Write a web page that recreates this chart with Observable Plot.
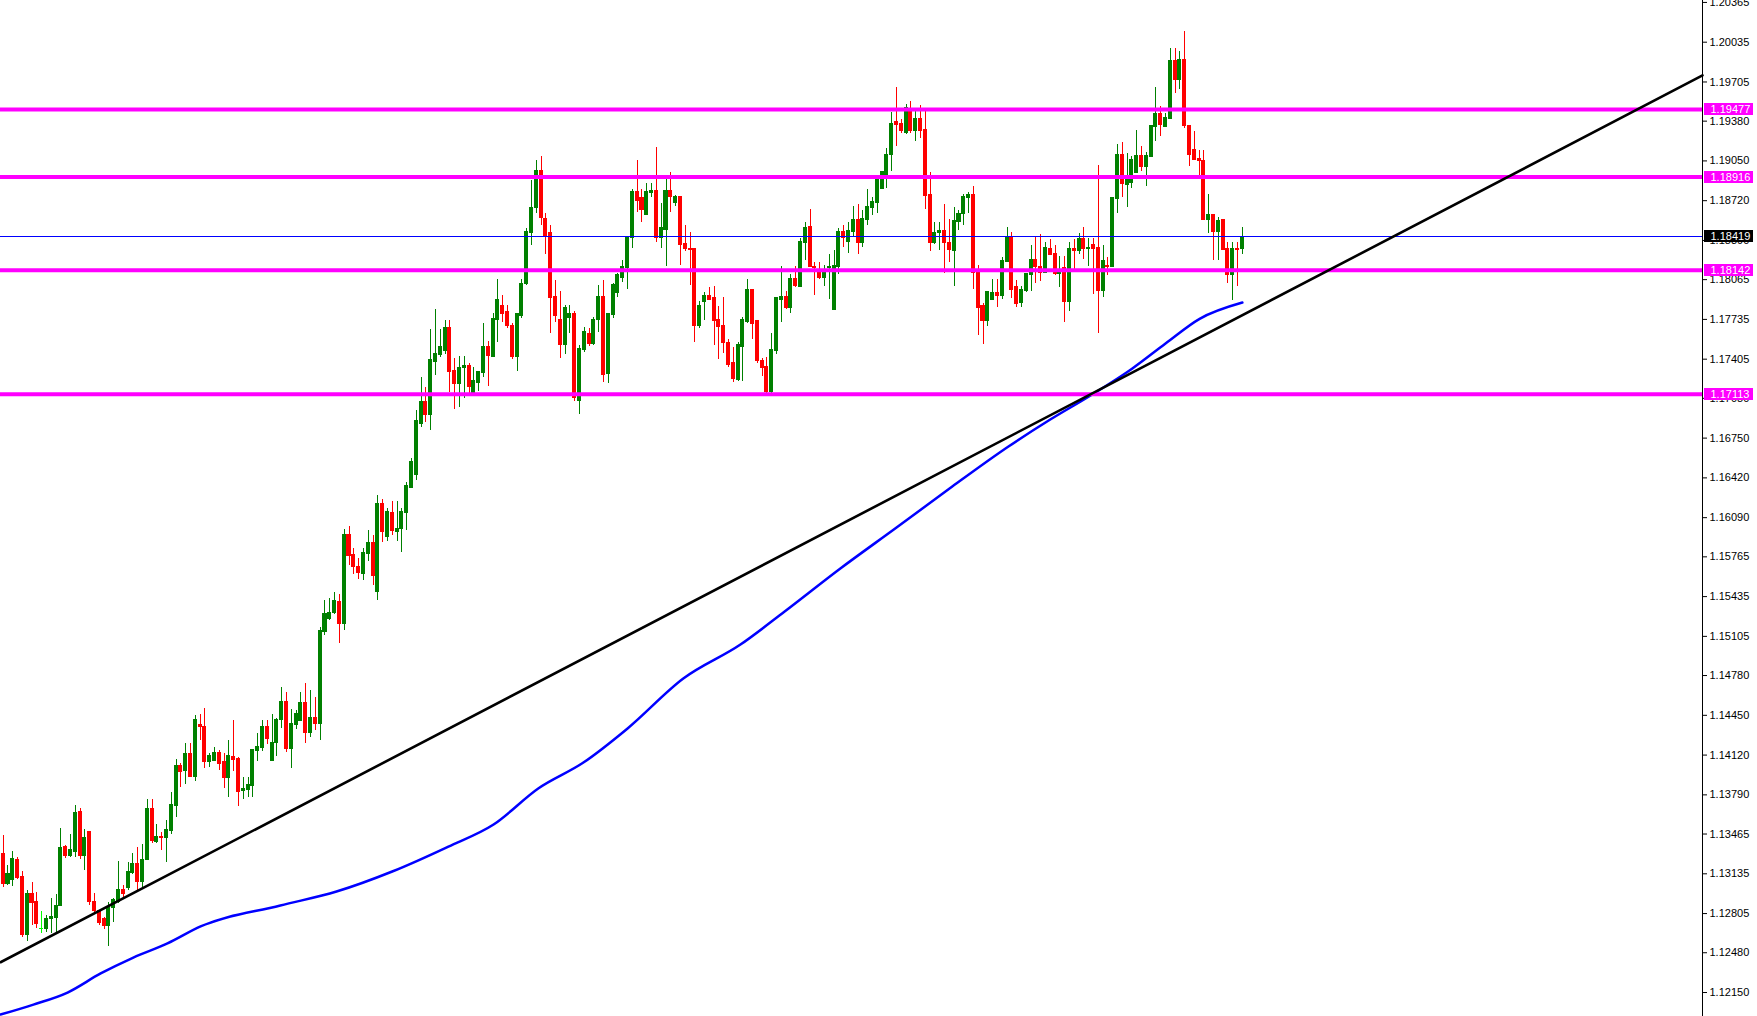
<!DOCTYPE html>
<html><head><meta charset="utf-8">
<script src="https://cdn.jsdelivr.net/npm/d3@7"></script>
<script src="https://cdn.jsdelivr.net/npm/@observablehq/plot@0.6"></script>
<style>html,body{margin:0;padding:0;background:#fff;overflow:hidden}</style>
</head><body><div id="chart"></div>
<script>
const OPEN=[1.1330,1.1305,1.1308,1.1325,1.1311,1.1263,1.1297,1.1290,1.1268,1.1268,
1.1276,1.1277,1.1287,1.1336,1.1328,1.1332,1.1365,1.1328,1.1348,1.1290,
1.1283,1.1276,1.1270,1.1285,1.1290,1.1300,1.1302,1.1314,1.1322,1.1307,
1.1325,1.1367,1.1340,1.1344,1.1343,1.1349,1.1370,1.1403,1.1399,1.1413,
1.1394,1.1437,1.1435,1.1406,1.1407,1.1414,1.1406,1.1393,1.1410,1.1409,
1.1382,1.1383,1.1386,1.1415,1.1418,1.1435,1.1407,1.1422,1.1441,1.1456,
1.1417,1.1437,1.1440,1.1455,1.1430,1.1443,1.1438,1.1514,1.1525,1.1530,
1.1539,1.1521,1.1595,1.1578,1.1568,1.1562,1.1579,1.1588,1.1547,1.1620,
1.1593,1.1613,1.1597,1.1600,1.1613,1.1634,1.1644,1.1687,1.1705,1.1694,
1.1738,1.1744,1.1747,1.1766,1.1731,1.1720,1.1733,1.1735,1.1712,1.1721,
1.1729,1.1751,1.1742,1.1773,1.1785,1.1780,1.1768,1.1742,1.1776,1.1803,
1.1845,1.1866,1.1897,1.1857,1.1845,1.1792,1.1773,1.1752,1.1775,1.1778,
1.1706,1.1748,1.1761,1.1753,1.1773,1.1792,1.1728,1.1777,1.1795,1.1808,
1.1816,1.1841,1.1879,1.1874,1.1860,1.1878,1.1880,1.1841,1.1848,1.1880,
1.1870,1.1875,1.1836,1.1832,1.1832,1.1768,1.1788,1.1793,1.1791,1.1773,
1.1768,1.1754,1.1737,1.1723,1.1751,1.1771,1.1798,1.1772,1.1739,1.1734,
1.1713,1.1747,1.1790,1.1792,1.1783,1.1807,1.1800,1.1837,1.1850,1.1817,
1.1812,1.1808,1.1816,1.1781,1.1817,1.1846,1.1838,1.1846,1.1856,1.1837,
1.1856,1.1866,1.1870,1.1882,1.1892,1.1910,1.1937,1.1936,1.1928,1.1947,
1.1930,1.1940,1.1931,1.1877,1.1837,1.1845,1.1847,1.1837,1.1830,1.1854,
1.1861,1.1874,1.1877,1.1812,1.1785,1.1772,1.1790,1.1795,1.1793,1.1821,
1.1842,1.1800,1.1787,1.1797,1.1810,1.1823,1.1817,1.1812,1.1832,1.1828,
1.1811,1.1816,1.1788,1.1832,1.1830,1.1840,1.1832,1.1835,1.1833,1.1797,
1.1818,1.1817,1.1873,1.1910,1.1885,1.1887,1.1895,1.1909,1.1900,1.1908,
1.1933,1.1944,1.1933,1.1940,1.1988,1.1972,1.1989,1.1934,1.1914,1.1907,
1.1905,1.1856,1.1860,1.1846,1.1856,1.1832,1.1810,1.1832,1.1832];
const HIGH=[1.1345,1.1320,1.1332,1.1327,1.1315,1.1300,1.1306,1.1298,1.1282,1.1279,
1.1293,1.1296,1.1351,1.1337,1.1346,1.1370,1.1368,1.1350,1.1348,1.1297,
1.1283,1.1277,1.1290,1.1293,1.1324,1.1304,1.1323,1.1330,1.1335,1.1338,
1.1375,1.1375,1.1354,1.1348,1.1358,1.1381,1.1408,1.1405,1.1422,1.1422,
1.1445,1.1446,1.1451,1.1413,1.1418,1.1416,1.1413,1.1424,1.1441,1.1410,
1.1393,1.1393,1.1417,1.1430,1.1441,1.1441,1.1446,1.1442,1.1468,1.1464,
1.1450,1.1449,1.1464,1.1471,1.1466,1.1460,1.1518,1.1540,1.1542,1.1547,
1.1545,1.1599,1.1602,1.1583,1.1575,1.1583,1.1598,1.1594,1.1627,1.1624,
1.1617,1.1622,1.1622,1.1617,1.1638,1.1658,1.1698,1.1725,1.1717,1.1765,
1.1782,1.1765,1.1773,1.1773,1.1741,1.1743,1.1743,1.1737,1.1734,1.1730,
1.1770,1.1755,1.1778,1.1807,1.1793,1.1785,1.1770,1.1778,1.1807,1.1849,
1.1889,1.1905,1.1909,1.1861,1.1851,1.1806,1.1797,1.1785,1.1785,1.1780,
1.1752,1.1767,1.1766,1.1775,1.1802,1.1806,1.1778,1.1803,1.1812,1.1822,
1.1841,1.1881,1.1905,1.1881,1.1886,1.1886,1.1916,1.1870,1.1891,1.1895,
1.1876,1.1875,1.1851,1.1846,1.1832,1.1788,1.1796,1.1800,1.1801,1.1784,
1.1792,1.1757,1.1750,1.1754,1.1775,1.1807,1.1798,1.1772,1.1741,1.1742,
1.1762,1.1791,1.1817,1.1797,1.1811,1.1817,1.1841,1.1854,1.1865,1.1821,
1.1821,1.1818,1.1827,1.1831,1.1849,1.1851,1.1854,1.1867,1.1869,1.1864,
1.1881,1.1875,1.1890,1.1896,1.1915,1.1945,1.1966,1.1939,1.1952,1.1954,
1.1947,1.1951,1.1947,1.1895,1.1854,1.1854,1.1869,1.1856,1.1866,1.1864,
1.1877,1.1879,1.1884,1.1818,1.1787,1.1796,1.1807,1.1807,1.1825,1.1850,
1.1846,1.1806,1.1801,1.1812,1.1835,1.1842,1.1844,1.1837,1.1840,1.1835,
1.1826,1.1826,1.1837,1.1840,1.1845,1.1850,1.1841,1.1841,1.1901,1.1835,
1.1825,1.1875,1.1919,1.1920,1.1911,1.1909,1.1930,1.1917,1.1912,1.1934,
1.1966,1.1950,1.1944,1.1998,1.1998,1.1996,1.2012,1.1934,1.1929,1.1914,
1.1914,1.1877,1.1860,1.1858,1.1856,1.1837,1.1837,1.1837,1.1850];
const LOW=[1.1302,1.1304,1.1303,1.1309,1.1261,1.1257,1.1271,1.1268,1.1264,1.1265,
1.1264,1.1265,1.1286,1.1326,1.1327,1.1327,1.1325,1.1316,1.1287,1.1281,
1.1271,1.1267,1.1253,1.1273,1.1289,1.1294,1.1300,1.1313,1.1300,1.1302,
1.1325,1.1339,1.1339,1.1333,1.1323,1.1346,1.1360,1.1385,1.1388,1.1393,
1.1390,1.1424,1.1401,1.1402,1.1407,1.1399,1.1384,1.1377,1.1398,1.1369,
1.1375,1.1377,1.1377,1.1407,1.1415,1.1421,1.1407,1.1411,1.1434,1.1414,
1.1401,1.1433,1.1440,1.1422,1.1427,1.1432,1.1424,1.1511,1.1524,1.1529,
1.1505,1.1515,1.1569,1.1562,1.1558,1.1557,1.1573,1.1553,1.1540,1.1588,
1.1589,1.1594,1.1589,1.1580,1.1598,1.1634,1.1640,1.1684,1.1688,1.1681,
1.1727,1.1742,1.1744,1.1713,1.1699,1.1700,1.1708,1.1712,1.1712,1.1714,
1.1725,1.1718,1.1742,1.1754,1.1771,1.1766,1.1740,1.1730,1.1774,1.1802,
1.1835,1.1861,1.1851,1.1827,1.1762,1.1771,1.1741,1.1744,1.1762,1.1705,
1.1695,1.1746,1.1751,1.1752,1.1763,1.1721,1.1720,1.1774,1.1792,1.1804,
1.1798,1.1832,1.1862,1.1854,1.1860,1.1875,1.1837,1.1832,1.1817,1.1862,
1.1867,1.1818,1.1830,1.1802,1.1754,1.1766,1.1773,1.1789,1.1752,1.1740,
1.1745,1.1734,1.1721,1.1722,1.1722,1.1770,1.1757,1.1737,1.1726,1.1712,
1.1712,1.1744,1.1771,1.1782,1.1778,1.1800,1.1800,1.1822,1.1817,1.1793,
1.1807,1.1801,1.1790,1.1781,1.1811,1.1833,1.1828,1.1842,1.1827,1.1833,
1.1851,1.1860,1.1861,1.1882,1.1882,1.1896,1.1917,1.1928,1.1927,1.1928,
1.1921,1.1924,1.1865,1.1830,1.1836,1.1831,1.1812,1.1821,1.1801,1.1847,
1.1851,1.1861,1.1798,1.1760,1.1753,1.1768,1.1790,1.1783,1.1790,1.1821,
1.1791,1.1783,1.1783,1.1796,1.1797,1.1803,1.1805,1.1812,1.1827,1.1810,
1.1800,1.1771,1.1780,1.1815,1.1827,1.1823,1.1817,1.1794,1.1762,1.1792,
1.1810,1.1817,1.1861,1.1875,1.1866,1.1882,1.1895,1.1896,1.1884,1.1908,
1.1921,1.1925,1.1933,1.1940,1.1961,1.1964,1.1932,1.1900,1.1906,1.1892,
1.1856,1.1845,1.1822,1.1822,1.1831,1.1803,1.1789,1.1801,1.1827];
const CLOSE=[1.1305,1.1313,1.1326,1.1310,1.1263,1.1297,1.1289,1.1272,1.1268,1.1276,
1.1278,1.1287,1.1335,1.1328,1.1333,1.1364,1.1328,1.1343,1.1290,1.1283,
1.1273,1.1270,1.1286,1.1292,1.1300,1.1297,1.1315,1.1322,1.1307,1.1325,
1.1367,1.1341,1.1344,1.1343,1.1350,1.1371,1.1403,1.1398,1.1413,1.1394,
1.1441,1.1435,1.1406,1.1411,1.1414,1.1405,1.1393,1.1411,1.1408,1.1381,
1.1384,1.1387,1.1416,1.1419,1.1435,1.1425,1.1422,1.1441,1.1456,1.1417,
1.1438,1.1446,1.1455,1.1430,1.1443,1.1438,1.1515,1.1529,1.1530,1.1540,
1.1521,1.1595,1.1577,1.1568,1.1563,1.1580,1.1588,1.1561,1.1620,1.1597,
1.1614,1.1598,1.1600,1.1614,1.1635,1.1655,1.1689,1.1705,1.1694,1.1740,
1.1745,1.1751,1.1766,1.1730,1.1720,1.1733,1.1735,1.1717,1.1722,1.1730,
1.1751,1.1743,1.1774,1.1790,1.1778,1.1768,1.1742,1.1778,1.1803,1.1846,
1.1866,1.1897,1.1858,1.1842,1.1791,1.1776,1.1752,1.1783,1.1778,1.1708,
1.1749,1.1763,1.1753,1.1773,1.1792,1.1727,1.1778,1.1802,1.1810,1.1817,
1.1841,1.1879,1.1872,1.1864,1.1879,1.1880,1.1841,1.1849,1.1880,1.1875,
1.1875,1.1835,1.1832,1.1831,1.1768,1.1785,1.1793,1.1790,1.1772,1.1767,
1.1754,1.1736,1.1724,1.1752,1.1773,1.1798,1.1770,1.1739,1.1733,1.1713,
1.1748,1.1791,1.1792,1.1783,1.1807,1.1801,1.1838,1.1849,1.1817,1.1816,
1.1808,1.1812,1.1817,1.1818,1.1846,1.1841,1.1847,1.1856,1.1837,1.1857,
1.1867,1.1871,1.1890,1.1896,1.1910,1.1936,1.1935,1.1930,1.1949,1.1930,
1.1940,1.1930,1.1876,1.1837,1.1845,1.1847,1.1837,1.1831,1.1855,1.1861,
1.1875,1.1877,1.1812,1.1783,1.1772,1.1796,1.1795,1.1793,1.1822,1.1842,
1.1798,1.1786,1.1798,1.1811,1.1823,1.1817,1.1812,1.1833,1.1827,1.1811,
1.1812,1.1788,1.1832,1.1830,1.1840,1.1832,1.1833,1.1832,1.1797,1.1822,
1.1817,1.1874,1.1910,1.1886,1.1889,1.1906,1.1909,1.1900,1.1909,1.1934,
1.1944,1.1935,1.1941,1.1988,1.1972,1.1989,1.1934,1.1910,1.1906,1.1905,
1.1856,1.1860,1.1846,1.1855,1.1831,1.1810,1.1832,1.1831,1.1842];

// moving average (blue curve), read at bar positions
const MA_BAR=[-0.56,6.3,13.4,20.3,27.1,34.2,41.1,57.7,69.4,81.0,92.7,102.1,111.4,120.8,130.0,141.6,153.5,162.7,174.3,186.0,197.6,209.3,218.0,226.4,235.1,242.0,249.1,258];
const MA_VAL=[1.11967,1.12050,1.12150,1.12308,1.12440,1.12557,1.12698,1.12872,1.12988,1.13154,1.13361,1.13544,1.13843,1.14058,1.14341,1.14755,1.15037,1.15311,1.15668,1.16008,1.16348,1.16680,1.16904,1.17104,1.17328,1.17535,1.17740,1.17875];

// trend line anchors (bar, price)
const TREND_BAR=[-0.56,353.8];
const TREND_VAL=[1.12401,1.19759];

const LEVELS=[1.19477,1.18916,1.18142,1.17113];
const CURRENT=1.18419;
const TICKS=[1.20365,1.20035,1.19705,1.19380,1.19050,1.18720,1.18390,1.18065,1.17735,1.17405,1.17080,1.16750,1.16420,1.16090,1.15765,1.15435,1.15105,1.14780,1.14450,1.14120,1.13790,1.13465,1.13135,1.12805,1.12480,1.12150];

const W=1757, H=1016, MR=55;
const X_DOMAIN=[-0.56,353.8], Y_DOMAIN=[1.11951,1.20381];
const pxX=(X_DOMAIN[1]-X_DOMAIN[0])/(W-MR), pxY=(Y_DOMAIN[1]-Y_DOMAIN[0])/H;

const candles=CLOSE.map((c,i)=>({i,o:OPEN[i],h:HIGH[i],l:LOW[i],c,
  col:c>OPEN[i]?"#008000":c<OPEN[i]?"#ff0000":"#00ff00"}));
const ma=MA_BAR.map((x,k)=>({x,y:MA_VAL[k]}));
const trend=TREND_BAR.map((x,k)=>({x,y:TREND_VAL[k]}));
const labels=[...LEVELS.map(v=>({v,bg:"#ff00ff"})),{v:CURRENT,bg:"#000000"}];

const chart=Plot.plot({
  width:W,height:H,marginLeft:0,marginRight:MR,marginTop:0,marginBottom:0,
  x:{domain:X_DOMAIN,axis:null},
  y:{domain:Y_DOMAIN},
  color:{type:"identity"},
  style:{fontFamily:"'Liberation Sans',Arial,sans-serif",fontSize:"11px",background:"#fff",overflow:"visible"},
  marks:[
    Plot.ruleX(candles,{x:"i",y1:"l",y2:"h",stroke:"col",strokeWidth:1,shapeRendering:"crispEdges"}),
    Plot.rect(candles,{x1:d=>d.i-0.42,x2:d=>d.i+0.42,y1:"o",y2:"c",fill:"col",insetTop:-0.5,insetBottom:-0.5,shapeRendering:"crispEdges"}),
    Plot.line(ma,{x:"x",y:"y",stroke:"#0000ff",strokeWidth:2.5,curve:"monotone-x"}),
    Plot.ruleY([CURRENT],{stroke:"#0000ff",strokeWidth:1,shapeRendering:"crispEdges"}),
    Plot.ruleY(LEVELS,{stroke:"#ff00ff",strokeWidth:4}),
    Plot.line(trend,{x:"x",y:"y",stroke:"#000000",strokeWidth:2.6}),
    Plot.ruleX([X_DOMAIN[1]],{stroke:"#000000",strokeWidth:1,shapeRendering:"crispEdges"}),
    Plot.axisY({anchor:"right",ticks:TICKS,tickFormat:d=>d.toFixed(5),tickSize:4,tickPadding:3,label:null,fill:"#000",stroke:"#000"}),
    Plot.rect(labels,{x1:()=>X_DOMAIN[1]+2*pxX,x2:()=>X_DOMAIN[1]+51*pxX,y1:d=>d.v-6*pxY,y2:d=>d.v+6*pxY,fill:"bg",shapeRendering:"crispEdges"}),
    Plot.text(labels,{y:"v",text:d=>d.v.toFixed(5),frameAnchor:"right",dx:8,textAnchor:"start",fill:"#ffffff"})
  ]
});
document.getElementById("chart").appendChild(chart);
</script>
</body></html>
